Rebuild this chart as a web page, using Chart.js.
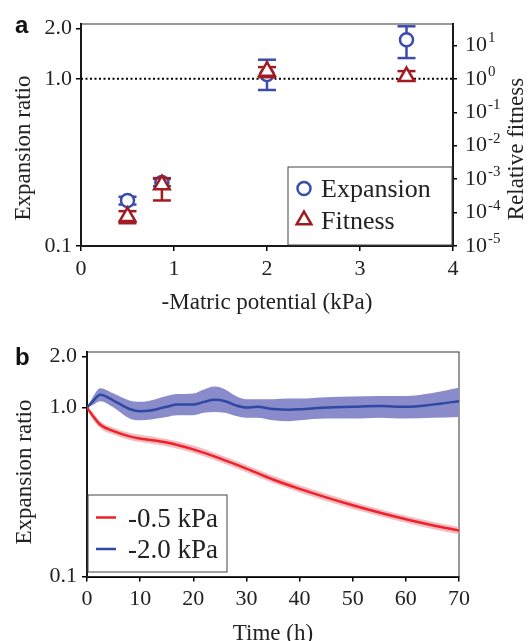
<!DOCTYPE html>
<html>
<head>
<meta charset="utf-8">
<script src="https://cdn.jsdelivr.net/npm/chart.js@4.4.0/dist/chart.umd.min.js"></script>
<style>
html, body { margin: 0; padding: 0; background: #fff; overflow: hidden; }
#wrapA { position: absolute; left: 0; top: 0; }
#wrapB { position: absolute; left: 0; top: 315px; }
</style>
</head>
<body>
<div id="wrapA"><canvas id="chartA" width="529" height="315"></canvas></div>
<div id="wrapB"><canvas id="chartB" width="529" height="335"></canvas></div>
<script>
// panel a: expansion ratio and fitness vs matric potential
let potentialKPa = [0.5, 0.87, 2.0, 3.5];
let expansionMean = [0.187, 0.24, 1.06, 1.71];
let expansionLow = [0.177, 0.228, 0.857, 1.33];
let expansionHigh = [0.197, 0.252, 1.30, 2.06];
let fitnessMean = [7.6e-5, 6.8e-4, 1.69, 1.17];
let fitnessLow = [4.8e-5, 2.3e-4, 1.12, 0.93];
let fitnessHigh = [1.1e-4, 1.07e-3, 2.24, 1.70];
let expansionTicks = [0.1, 1, 2];
let expansionTickLabels = ['0.1', '1.0', '2.0'];
let fitnessTicks = [1e-5, 1e-4, 1e-3, 1e-2, 1e-1, 1, 10];
let fitnessTickBase = ['10', '10', '10', '10', '10', '10', '10'];
let fitnessTickExponents = ['-5', '-4', '-3', '-2', '-1', '0', '1'];

// panel b: expansion ratio over time
let timeRed = [0, 1, 2.5, 5, 8, 10, 15, 20, 25, 30, 35, 40, 45, 50, 55, 60, 65, 70];
let redMean = [1.0, 0.90, 0.79, 0.725, 0.675, 0.655, 0.62, 0.565, 0.50, 0.435, 0.375, 0.33, 0.294, 0.264, 0.239, 0.218, 0.201, 0.187];
let redUpper = [1.0, 0.945, 0.83, 0.76, 0.71, 0.69, 0.65, 0.595, 0.525, 0.457, 0.394, 0.347, 0.309, 0.277, 0.251, 0.229, 0.211, 0.196];
let redLower = [1.0, 0.857, 0.752, 0.69, 0.643, 0.624, 0.59, 0.538, 0.476, 0.414, 0.357, 0.314, 0.28, 0.251, 0.228, 0.208, 0.191, 0.178];
let timeBlue = [0, 1, 2.5, 5, 8, 10, 12, 15, 17, 20, 22, 24, 26, 28, 30, 32, 35, 38, 40, 45, 50, 55, 60, 65, 70];
let blueMean = [1.0, 1.08, 1.19, 1.10, 0.98, 0.95, 0.96, 1.01, 1.04, 1.04, 1.08, 1.11, 1.09, 1.03, 1.00, 1.01, 0.98, 0.97, 0.975, 1.00, 1.01, 1.02, 1.01, 1.04, 1.09];
let blueUpper = [1.0, 1.14, 1.30, 1.21, 1.10, 1.08, 1.10, 1.17, 1.20, 1.21, 1.28, 1.33, 1.28, 1.17, 1.12, 1.12, 1.12, 1.13, 1.13, 1.15, 1.16, 1.17, 1.17, 1.22, 1.31];
let blueLower = [1.0, 1.03, 1.09, 1.00, 0.86, 0.84, 0.85, 0.88, 0.90, 0.90, 0.93, 0.94, 0.93, 0.89, 0.87, 0.87, 0.84, 0.83, 0.84, 0.86, 0.86, 0.87, 0.86, 0.87, 0.88];
let timeTicks = 10;

const serif = "'Liberation Serif', 'Times New Roman', serif";
const blue = '#3a4dac';
const darkRed = '#a11c21';
const lineRed = '#ee2229';
const lineBlue = '#2f49a3';
const textColor = '#222';

function points(xs, ys) {
    return xs.map((x, i) => ({ x: x, y: ys[i] }));
}

function errorBars(xs, lo, hi) {
    let pts = [];
    xs.forEach((x, i) => {
        pts.push({ x: x, y: lo[i] }, { x: x, y: hi[i] }, { x: x, y: null });
    });
    return pts;
}

// thin frame, panel letter, rotated side titles, exponents, boxed legend
const decorations = {
    id: 'decorations',
    beforeDatasetsDraw(chart) {
        let { ctx, chartArea: a } = chart;
        ctx.save();
        ctx.strokeStyle = '#333';
        ctx.lineWidth = 1;
        ctx.strokeRect(a.left, a.top, a.right - a.left, a.bottom - a.top);
        ctx.restore();
    },
    afterDraw(chart, args, opts) {
        let ctx = chart.ctx;
        ctx.save();
        ctx.fillStyle = '#111';
        ctx.font = 'bold 24px "Liberation Sans", Arial, sans-serif';
        ctx.textBaseline = 'alphabetic';
        ctx.fillText(opts.letter.text, opts.letter.x, opts.letter.y);

        ctx.fillStyle = textColor;
        ctx.font = '23px ' + serif;
        ctx.textAlign = 'center';
        ctx.textBaseline = 'middle';
        opts.sideTitles.forEach(t => {
            ctx.save();
            ctx.translate(t.x, t.y);
            ctx.rotate(-Math.PI / 2);
            ctx.fillText(t.text, 0, 0);
            ctx.restore();
        });

        if (opts.exponents) {
            let scale = chart.scales[opts.exponents.axis];
            ctx.font = '15px ' + serif;
            ctx.textAlign = 'left';
            fitnessTicks.forEach((v, i) => {
                ctx.fillText(fitnessTickExponents[i], opts.exponents.x, scale.getPixelForValue(v) - 7);
            });
        }

        let lg = opts.legend;
        ctx.fillStyle = '#fff';
        ctx.fillRect(lg.box[0], lg.box[1], lg.box[2] - lg.box[0], lg.box[3] - lg.box[1]);
        ctx.strokeStyle = '#444';
        ctx.lineWidth = 1;
        ctx.strokeRect(lg.box[0], lg.box[1], lg.box[2] - lg.box[0], lg.box[3] - lg.box[1]);
        ctx.font = lg.fontSize + 'px ' + serif;
        ctx.textAlign = 'left';
        lg.items.forEach((idx, row) => {
            let ds = chart.data.datasets[idx];
            let y = lg.firstRow + row * lg.rowGap;
            ctx.strokeStyle = ds.borderColor;
            ctx.fillStyle = '#fff';
            ctx.lineWidth = 2.5;
            if (lg.kind === 'marker') {
                let r = lg.markerRadius[row];
                Chart.helpers.drawPoint(ctx, { pointStyle: ds.pointStyle, radius: r, borderWidth: 2.5, rotation: 0 }, lg.markerX, y);
            } else {
                ctx.beginPath();
                ctx.moveTo(lg.lineX[0], y);
                ctx.lineTo(lg.lineX[1], y);
                ctx.stroke();
            }
            ctx.fillStyle = textColor;
            ctx.fillText(ds.label, lg.textX, y + 2);
        });
        ctx.restore();
    }
};

function tickFont(size) {
    return { family: serif, size: size };
}

function axisGrid() {
    return { drawOnChartArea: false, drawTicks: true, tickLength: 5, color: '#000', lineWidth: 1.5 };
}

function initPanelA() {
    let config = {
        type: 'scatter',
        data: {
            datasets: [
                {
                    label: 'Fitness', data: points(potentialKPa, fitnessMean), yAxisID: 'yFit',
                    pointStyle: 'triangle', pointRadius: 9, pointBorderWidth: 2.5,
                    borderColor: darkRed, pointBorderColor: darkRed, pointBackgroundColor: '#fff', backgroundColor: '#fff'
                },
                {
                    data: errorBars(potentialKPa, fitnessLow, fitnessHigh), yAxisID: 'yFit',
                    showLine: true, spanGaps: false, borderColor: darkRed, borderWidth: 2.5,
                    pointStyle: 'line', pointRadius: 9, pointBorderWidth: 2.5, pointBorderColor: darkRed
                },
                {
                    label: 'Expansion', data: points(potentialKPa, expansionMean), yAxisID: 'y',
                    pointStyle: 'circle', pointRadius: 6.5, pointBorderWidth: 2.5,
                    borderColor: blue, pointBorderColor: blue, pointBackgroundColor: '#fff', backgroundColor: '#fff'
                },
                {
                    data: errorBars(potentialKPa, expansionLow, expansionHigh), yAxisID: 'y',
                    showLine: true, spanGaps: false, borderColor: blue, borderWidth: 2.5,
                    pointStyle: 'line', pointRadius: 9, pointBorderWidth: 2.5, pointBorderColor: blue
                },
                {
                    data: [{ x: 0, y: 1 }, { x: 4, y: 1 }], yAxisID: 'y',
                    showLine: true, borderColor: '#000', borderWidth: 2, borderDash: [2, 2.5], pointRadius: 0
                }
            ]
        },
        options: {
            responsive: false,
            animation: false,
            events: [],
            layout: { padding: { left: 0, top: 24, right: 0, bottom: 0 } },
            scales: {
                x: {
                    type: 'linear', min: 0, max: 4,
                    afterFit: s => { s.height = 69; },
                    ticks: { stepSize: 1, font: tickFont(22), color: textColor, padding: 5 },
                    grid: axisGrid(),
                    border: { display: true, color: '#000', width: 2 },
                    title: { display: true, text: '-Matric potential (kPa)', font: tickFont(23), color: textColor, padding: { top: 0, bottom: -2 } }
                },
                y: {
                    type: 'logarithmic', position: 'left', min: 0.1, max: 2.126,
                    afterFit: s => { s.width = 81; },
                    afterBuildTicks: s => { s.ticks = expansionTicks.map(v => ({ value: v })); },
                    ticks: { font: tickFont(22), color: textColor, padding: 4, callback: (v, i) => expansionTickLabels[i] },
                    grid: axisGrid(),
                    border: { display: true, color: '#000', width: 2 }
                },
                yFit: {
                    type: 'logarithmic', position: 'right', min: 1e-5, max: 43.6,
                    afterFit: s => { s.width = 76; },
                    afterBuildTicks: s => { s.ticks = fitnessTicks.map(v => ({ value: v })); },
                    ticks: { font: tickFont(22), color: textColor, padding: 8, callback: (v, i) => fitnessTickBase[i] },
                    grid: { drawOnChartArea: false, drawTicks: true, tickLength: 4, color: '#000', lineWidth: 1.5 },
                    border: { display: true, color: '#000', width: 2 }
                }
            },
            plugins: {
                legend: { display: false },
                tooltip: { enabled: false },
                decorations: {
                    letter: { text: 'a', x: 15, y: 33 },
                    sideTitles: [
                        { text: 'Expansion ratio', x: 24, y: 148 },
                        { text: 'Relative fitness', x: 517, y: 149 }
                    ],
                    exponents: { axis: 'yFit', x: 488 },
                    legend: {
                        kind: 'marker', box: [288, 167, 452, 245], items: [2, 0],
                        firstRow: 188.5, rowGap: 31.5, markerX: 304, markerRadius: [6.5, 8.5], textX: 321, fontSize: 26
                    }
                }
            }
        },
        plugins: [decorations]
    };
    return new Chart(document.getElementById('chartA'), config);
}

function initPanelB() {
    let band = { borderWidth: 0, pointRadius: 0, cubicInterpolationMode: 'monotone' };
    let config = {
        type: 'line',
        data: {
            datasets: [
                { label: '-0.5 kPa', data: points(timeRed, redMean), borderColor: lineRed, borderWidth: 2.5, pointRadius: 0, cubicInterpolationMode: 'monotone' },
                { label: '-2.0 kPa', data: points(timeBlue, blueMean), borderColor: lineBlue, borderWidth: 2.5, pointRadius: 0, cubicInterpolationMode: 'monotone' },
                Object.assign({ data: points(timeRed, redUpper), fill: '+1', backgroundColor: 'rgba(240,160,168,0.7)' }, band),
                Object.assign({ data: points(timeRed, redLower), fill: false }, band),
                Object.assign({ data: points(timeBlue, blueUpper), fill: '+1', backgroundColor: '#898bca' }, band),
                Object.assign({ data: points(timeBlue, blueLower), fill: false }, band)
            ]
        },
        options: {
            responsive: false,
            animation: false,
            events: [],
            layout: { padding: { left: 0, top: 37, right: 70, bottom: 0 } },
            scales: {
                x: {
                    type: 'linear', min: 0, max: 70,
                    afterFit: s => { s.height = 73.5; },
                    ticks: { stepSize: timeTicks, font: tickFont(22), color: textColor, padding: 5 },
                    grid: axisGrid(),
                    border: { display: true, color: '#000', width: 2 },
                    title: { display: true, text: 'Time (h)', font: tickFont(23), color: textColor, padding: { top: 0, bottom: 2 } }
                },
                y: {
                    type: 'logarithmic', position: 'left', min: 0.1, max: 2.13,
                    afterFit: s => { s.width = 87; },
                    afterBuildTicks: s => { s.ticks = expansionTicks.map(v => ({ value: v })); },
                    ticks: { font: tickFont(22), color: textColor, padding: 5, callback: (v, i) => expansionTickLabels[i] },
                    grid: axisGrid(),
                    border: { display: true, color: '#000', width: 2 }
                }
            },
            plugins: {
                legend: { display: false },
                tooltip: { enabled: false },
                filler: { propagate: false },
                decorations: {
                    letter: { text: 'b', x: 15, y: 50 },
                    sideTitles: [
                        { text: 'Expansion ratio', x: 25, y: 157 }
                    ],
                    legend: {
                        kind: 'line', box: [88, 180, 227, 257], items: [0, 1],
                        firstRow: 202.5, rowGap: 31.5, lineX: [96, 116], textX: 128, fontSize: 27
                    }
                }
            }
        },
        plugins: [decorations]
    };
    return new Chart(document.getElementById('chartB'), config);
}

initPanelA();
initPanelB();
</script>
</body>
</html>
